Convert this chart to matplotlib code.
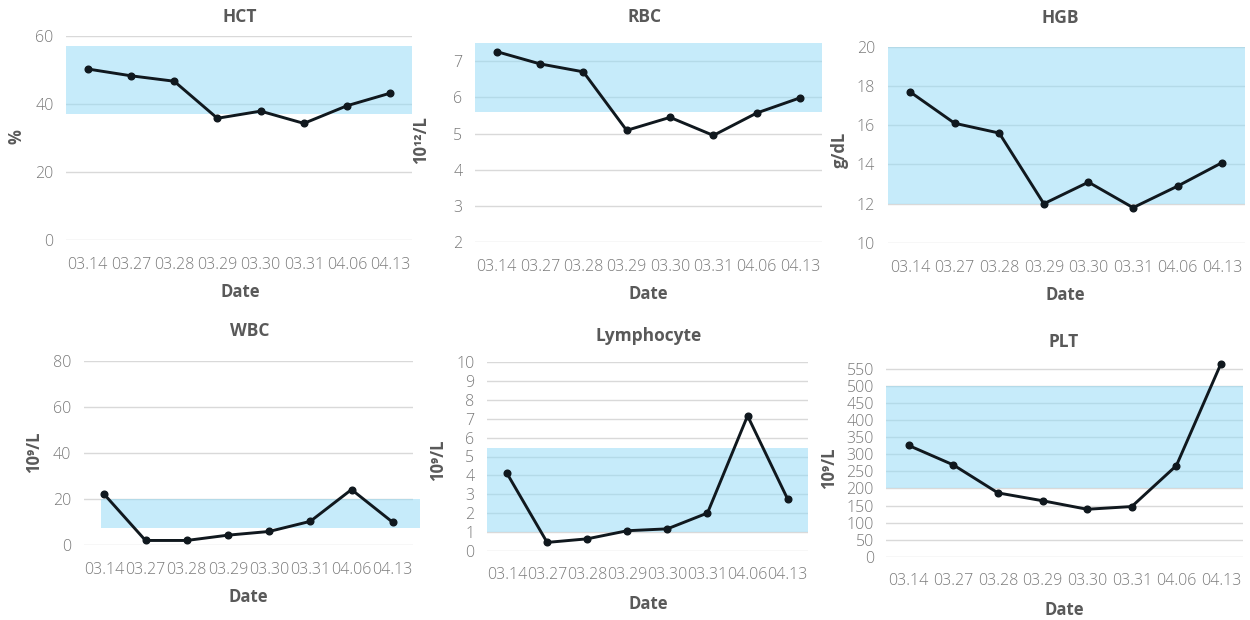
import matplotlib
matplotlib.use("Agg")
import matplotlib.pyplot as plt

dates = ["03.14", "03.27", "03.28", "03.29", "03.30", "03.31", "04.06", "04.13"]

hct = [50.3, 48.3, 46.7, 35.8, 37.9, 34.3, 39.5, 43.2]
rbc = [7.27, 6.93, 6.71, 5.09, 5.45, 4.95, 5.57, 5.99]
hgb = [17.7, 16.1, 15.6, 12.0, 13.1, 11.8, 12.9, 14.1]
wbc = [22.1, 2.1, 2.1, 4.4, 6.0, 10.4, 24.2, 10.0]
lym = [4.1, 0.44, 0.63, 1.06, 1.16, 2.0, 7.16, 2.74]
plt_count = [326, 269, 187, 164, 139, 147, 267, 566]

hct_ref = (37, 57)
rbc_ref = (5.6, 7.6)
hgb_ref = (12, 20)
wbc_ref = (7.3, 20)
lym_ref = (1.0, 5.45)
plt_ref = (200, 500)

W, H = 1250, 620
fig = plt.figure(figsize=(W / 100, H / 100), dpi=100)

BAND = "#97dbf6"
GRID = "#d9d9d9"
LINE = "#10181e"
TICK = "#7a7a7a"
LAB = "#595959"
FONT = ["Open Sans", "DejaVu Sans"]


def px_axes(x0, x1, y0, y1):
    return fig.add_axes([x0 / W, 1 - y1 / H, (x1 - x0) / W, (y1 - y0) / H])


def panel(box, values, ref, ylim, yticks, title, title_xy, ylabel, ylabel_xy,
          date_xy, band_x=None):
    ax = px_axes(*box)
    n = len(dates)
    xs = list(range(n))
    ax.set_xlim(-0.5, n - 0.5)
    ax.set_ylim(*ylim)
    ax.set_yticks(yticks)
    ax.set_xticks(xs)
    ax.set_xticklabels(dates)
    for t in yticks:
        ax.axhline(t, color=GRID, lw=1.0, zorder=1)
    bx = band_x if band_x else (-0.5, n - 0.5)
    ax.fill_between(bx, ref[0], ref[1], color=BAND, alpha=0.55, lw=0,
                    zorder=2, clip_on=band_x is None)
    ax.plot(xs, values, color=LINE, lw=2.1, marker="o", ms=4.8, zorder=4,
            clip_on=False)
    for s in ax.spines.values():
        s.set_visible(False)
    ax.tick_params(length=0, labelsize=11.5, labelcolor=TICK)
    ax.tick_params(axis="x", pad=12)
    ax.tick_params(axis="y", pad=9)
    for lbl in ax.get_xticklabels() + ax.get_yticklabels():
        lbl.set_family(FONT)
        lbl.set_fontweight("light")
    fig.text(title_xy[0] / W, 1 - title_xy[1] / H, title, ha="center",
             va="center", fontsize=12.5, fontweight="bold", color=LAB,
             family=FONT)
    fig.text(date_xy[0] / W, 1 - date_xy[1] / H, "Date", ha="center",
             va="center", fontsize=12, fontweight="bold", color=LAB,
             family=FONT)
    fig.text(ylabel_xy[0] / W, 1 - ylabel_xy[1] / H, ylabel, ha="center",
             va="center", rotation=90, fontsize=12, fontweight="bold",
             color=LAB, family=FONT)
    return ax


panel((66, 412, 36, 240), hct, hct_ref, (0, 60), [0, 20, 40, 60],
      "HCT", (240, 17), "%", (16, 137), (240, 292))
panel((475, 821.7, 43.3, 242), rbc, rbc_ref, (2, 7.5), [2, 3, 4, 5, 6, 7],
      "RBC", (645, 17), "10¹²/L", (421, 140), (648, 294))
panel((887.7, 1244.6, 46.7, 243), hgb, hgb_ref, (10, 20),
      [10, 12, 14, 16, 18, 20],
      "HGB", (1060, 18), "g/dL", (840, 150), (1065, 295))
panel((83.7, 413.3, 361, 545.3), wbc, wbc_ref, (0, 80), [0, 20, 40, 60, 80],
      "WBC", (250, 331), "10⁹/L", (34, 452), (248, 597),
      band_x=(-0.08, 7.66))
panel((487, 807.7, 362.3, 550.7), lym, lym_ref, (0, 10), list(range(11)),
      "Lymphocyte", (649, 336), "10⁹/L", (438, 460), (648, 604))
panel((886.4, 1243.3, 362.2, 556.7), plt_count, plt_ref, (0, 570),
      list(range(0, 551, 50)),
      "PLT", (1064, 342), "10⁹/L", (829, 468), (1064, 610))

fig.savefig("out.png", dpi=100, facecolor="white")
